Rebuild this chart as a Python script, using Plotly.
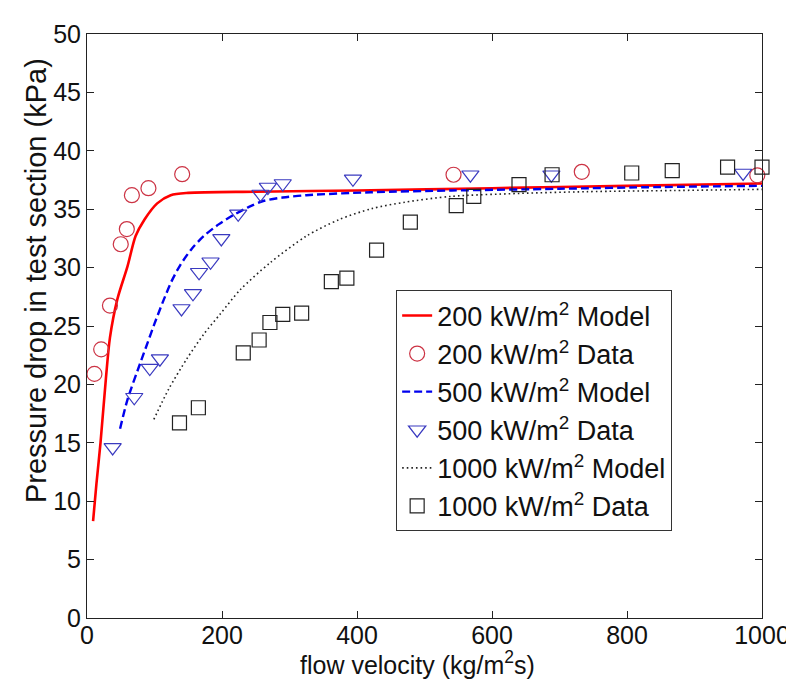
import plotly.graph_objects as go

# ---- data ----
# 200 kW/m2 model curve
m200_x = [9, 14, 20, 28, 34, 45, 60, 72, 85, 104, 124, 150, 250, 400, 600, 800, 1000]
m200_y = [8.3, 11.5, 15.0, 20.5, 24.0, 27.3, 30.1, 32.7, 34.1, 35.5, 36.2, 36.4, 36.5, 36.6, 36.8, 37.0, 37.2]
# 200 kW/m2 data
d200_x = [11, 21, 34, 50, 59, 66.5, 91, 141, 543, 733, 993]
d200_y = [20.9, 23.0, 26.75, 32.0, 33.3, 36.2, 36.8, 38.0, 37.95, 38.2, 37.9]

# 500 kW/m2 model curve
m500_x = [49, 60, 80, 90, 100, 112, 125, 138, 155, 173, 195, 217, 240, 261, 290, 325, 420, 540, 700, 850, 1000]
m500_y = [16.2, 18.7, 22.0, 23.6, 25.2, 27.0, 28.8, 30.2, 31.6, 32.7, 33.7, 34.5, 35.2, 35.7, 36.0, 36.2, 36.45, 36.6, 36.75, 36.9, 37.0]
# 500 kW/m2 data
d500_x = [38, 70, 93, 108, 140, 157, 166, 183, 199, 224, 257, 268, 290, 394, 568, 688, 972]
d500_y = [14.6, 18.9, 21.4, 22.2, 26.5, 27.8, 29.6, 30.5, 32.5, 34.6, 36.3, 36.9, 37.2, 37.6, 37.95, 37.95, 38.1]

# 1000 kW/m2 model curve
m1000_x = [99, 121, 148, 173, 197, 227, 271, 325, 373, 422, 471, 540, 640, 740, 870, 1000]
m1000_y = [17.0, 19.6, 22.2, 24.3, 26.0, 28.1, 30.4, 32.7, 34.1, 35.05, 35.6, 36.1, 36.35, 36.5, 36.6, 36.7]
# 1000 kW/m2 data
d1000_x = [137, 165, 231.5, 255, 271, 290, 318, 362, 385, 429, 479, 547, 573, 640, 689, 807, 867, 949, 1000]
d1000_y = [16.7, 18.0, 22.7, 23.8, 25.3, 26.0, 26.1, 28.8, 29.1, 31.5, 33.9, 35.3, 36.1, 37.1, 37.95, 38.1, 38.3, 38.6, 38.6]

x_ticks = [0, 200, 400, 600, 800, 1000]
y_ticks = [0, 5, 10, 15, 20, 25, 30, 35, 40, 45, 50]

x_title = "flow velocity (kg/m<sup>2</sup>s)"
y_title = "Pressure drop in test section (kPa)"

FONT = "Arial, Liberation Sans, sans-serif"

fig = go.Figure()
fig.add_trace(go.Scatter(x=m200_x, y=m200_y, mode="lines", name="200 kW/m<sup>2</sup> Model",
                         line=dict(color="#ff0000", width=2.6, shape="spline", smoothing=0.8)))
fig.add_trace(go.Scatter(x=d200_x, y=d200_y, mode="markers", name="200 kW/m<sup>2</sup> Data",
                         marker=dict(symbol="circle-open", size=15, color="#cc3344", line=dict(width=1.2)),
                         cliponaxis=False))
fig.add_trace(go.Scatter(x=m500_x, y=m500_y, mode="lines", name="500 kW/m<sup>2</sup> Model",
                         line=dict(color="#0000ee", width=2.4, dash="8px,4px", shape="spline", smoothing=0.8)))
fig.add_trace(go.Scatter(x=d500_x, y=d500_y, mode="markers", name="500 kW/m<sup>2</sup> Data",
                         marker=dict(symbol="triangle-down-open", size=15, color="#3a3ac0", line=dict(width=1.2)),
                         cliponaxis=False))
fig.add_trace(go.Scatter(x=m1000_x, y=m1000_y, mode="lines", name="1000 kW/m<sup>2</sup> Model",
                         line=dict(color="#222222", width=1.6, dash="1.6px,3px", shape="spline", smoothing=0.8)))
fig.add_trace(go.Scatter(x=d1000_x, y=d1000_y, mode="markers", name="1000 kW/m<sup>2</sup> Data",
                         marker=dict(symbol="square-open", size=14, color="#222222", line=dict(width=1.2)),
                         cliponaxis=False))

axis_common = dict(showgrid=False, zeroline=False, showline=True, linecolor="#222222", linewidth=1,
                   mirror="ticks", ticks="inside", ticklen=7, tickcolor="#222222",
                   tickfont=dict(family=FONT, size=25, color="#111111"))

fig.update_layout(
    width=794, height=681,
    margin=dict(l=79, r=32, t=18, b=71),
    paper_bgcolor="white", plot_bgcolor="white",
    font=dict(family=FONT, size=25, color="#111111"),
    xaxis=dict(range=[0, 1000], tickvals=x_ticks, ticktext=[str(v) for v in x_ticks],
               ticklabelstandoff=-5, **axis_common),
    yaxis=dict(range=[0, 50], tickvals=y_ticks, ticktext=[str(v) for v in y_ticks],
               **axis_common),
    legend=dict(x=0.458, y=0.561, xanchor="left", yanchor="top",
                bgcolor="white", bordercolor="#333333", borderwidth=1,
                font=dict(family=FONT, size=27, color="#111111"),
                tracegroupgap=0, itemwidth=30),
    showlegend=True,
    annotations=[
        dict(text=x_title, xref="paper", yref="paper", x=0.49, y=-0.077,
             xanchor="center", yanchor="middle", showarrow=False,
             font=dict(family=FONT, size=25, color="#111111")),
        dict(text=y_title, xref="paper", yref="paper", x=-0.0747, y=0.578,
             xanchor="center", yanchor="middle", textangle=-90, showarrow=False,
             font=dict(family=FONT, size=29, color="#111111")),
    ],
)

fig.write_html("out.html")
